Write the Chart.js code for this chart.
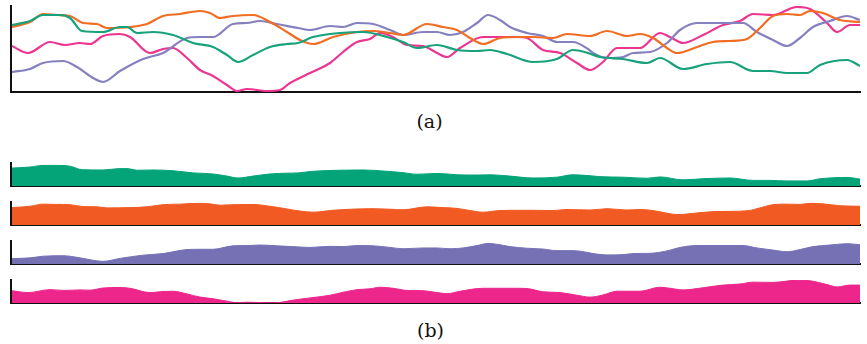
<!DOCTYPE html>
<html>
<head>
<meta charset="utf-8">
<script src="https://cdn.jsdelivr.net/npm/chart.js@4.4.1/dist/chart.umd.min.js"></script>
<style>
  body { margin: 0; background: #fff; }
  #wrap { position: relative; width: 867px; height: 344px; overflow: hidden; }
  canvas { position: absolute; left: 0; }
  .lbl { position: absolute; width: 867px; left: 0; text-align: center;
         font-family: "DejaVu Serif", serif; font-size: 19px; color: #111; }
</style>
</head>
<body>
<div id="wrap">
  <canvas id="top" width="867" height="100" style="top:0"></canvas>
  <div class="lbl" style="left:-4px; top:110px">(a)</div>
  <canvas id="s0" width="867" height="34" style="top:156px"></canvas>
  <canvas id="s1" width="867" height="34" style="top:195px"></canvas>
  <canvas id="s2" width="867" height="34" style="top:234px"></canvas>
  <canvas id="s3" width="867" height="34" style="top:273px"></canvas>
  <div class="lbl" style="left:-3px; top:319px">(b)</div>
</div>
<script>
// time (0..849) and value (0..86), one pair of arrays per series
const greenT = [1, 19, 32, 49, 59, 71, 92, 109, 116, 126, 142, 162, 182, 202, 216, 227, 242, 259, 276, 287,
  302, 329, 352, 376, 392, 406, 426, 446, 466, 479, 496, 522, 546, 562, 577,
  589, 612, 636, 649, 672, 696, 719, 742, 759, 776, 796, 809, 836, 849];
const greenV = [67, 71, 77, 77, 74, 61, 60, 65, 65, 59, 60, 57, 49, 45, 37, 30, 37, 45, 48, 49,
  55, 59, 60, 55, 50, 44, 47, 42, 41, 42, 38, 30, 33, 42, 39,
  35, 33, 29, 34, 23, 28, 30, 21, 21, 19, 19, 27, 32, 26];

const orangeT = [1, 19, 32, 46, 59, 72, 86, 96, 119, 136, 152, 169, 189, 199, 209, 222, 242, 259, 276, 289,
  302, 322, 346, 362, 379, 392, 416, 432, 446, 459, 472, 489, 509, 522, 542, 556,
  579, 596, 616, 629, 642, 656, 666, 686, 702, 719, 736, 749, 762, 776, 789, 799, 812, 829, 849];
const orangeV = [65, 70, 78, 77, 76, 69, 68, 64, 65, 68, 76, 78, 81, 79, 74, 76, 77, 70, 60, 52,
  48, 55, 60, 61, 59, 57, 68, 65, 62, 54, 48, 54, 55, 55, 54, 58,
  56, 61, 56, 58, 54, 44, 39, 45, 50, 51, 53, 64, 76, 78, 77, 81, 79, 72, 70];

const purpleT = [1, 19, 32, 52, 66, 82, 92, 109, 132, 152, 176, 189, 202, 222, 236, 249, 266, 287,
  299, 319, 332, 346, 362, 379, 392, 412, 426, 439, 452, 466, 477, 489, 499, 516, 532, 546, 562, 577,
  582, 596, 612, 622, 639, 656, 669, 686, 702, 719, 732, 746, 762, 776, 789, 802, 819, 836, 849];
const purpleV = [20, 23, 29, 31, 25, 14, 10, 21, 33, 39, 54, 55, 55, 68, 69, 71, 68, 64,
  62, 66, 65, 69, 68, 62, 57, 60, 60, 57, 60, 69, 77, 72, 65, 59, 56, 50, 50, 43,
  39, 34, 35, 39, 40, 49, 62, 69, 69, 69, 69, 60, 52, 46, 54, 65, 71, 76, 72];

const pinkT = [1, 17, 39, 54, 69, 79, 92, 109, 119, 139, 152, 162, 176, 189, 202, 216, 226, 236, 256, 269, 279,
  299, 319, 332, 346, 359, 369, 382, 396, 412, 426, 436, 449, 472, 506, 516, 532, 549, 566, 579,
  592, 606, 629, 649, 659, 672, 692, 712, 729, 742, 762, 786, 799, 816, 826, 839, 849];
const pinkV = [46, 39, 50, 47, 49, 48, 56, 58, 55, 39, 43, 44, 34, 22, 16, 7, 1, 3, 1, 2, 9,
  19, 29, 40, 50, 53, 59, 55, 47, 46, 39, 35, 44, 55, 55, 54, 42, 39, 29, 22,
  30, 44, 44, 59, 55, 49, 57, 67, 71, 78, 77, 85, 83, 69, 60, 67, 67];

const series = [
  { t: greenT, v: greenV, line: '#17a27b', fill: '#04a478' },
  { t: orangeT, v: orangeV, line: '#f26d22', fill: '#f15a22' },
  { t: purpleT, v: purpleV, line: '#8580c0', fill: '#7671b5' },
  { t: pinkT, v: pinkV, line: '#ec3590', fill: '#ec268b' },
];

function points(s) {
  return s.t.map((t, i) => ({ x: t, y: s.v[i] }));
}

function axes() {
  return {
    x: {
      type: 'linear', min: 0, max: 849,
      grid: { display: false },
      ticks: { display: false },
      border: { display: true, color: '#111', width: 2 },
      afterFit: s => { s.height = 0; }
    },
    y: {
      min: 0, max: 86,
      grid: { display: false },
      ticks: { display: false },
      border: { display: true, color: '#111', width: 2 },
      afterFit: s => { s.width = 0; }
    }
  };
}

function makeChart(id, datasets, padding) {
  new Chart(document.getElementById(id), {
    type: 'line',
    data: { datasets: datasets },
    options: {
      responsive: false,
      animation: false,
      layout: { padding: padding },
      plugins: { legend: { display: false }, tooltip: { enabled: false } },
      scales: axes()
    }
  });
}

// (a) all four series as lines
makeChart('top', series.map(s => ({
  data: points(s),
  borderColor: s.line,
  borderWidth: 2.2,
  pointRadius: 0,
  cubicInterpolationMode: 'monotone',
  fill: false
})), { left: 11, right: 7, top: 6, bottom: 8 });

// (b) one filled strip per series
series.forEach((s, i) => {
  makeChart('s' + i, [{
    data: points(s),
    borderColor: s.fill,
    borderWidth: 1,
    backgroundColor: s.fill,
    pointRadius: 0,
    cubicInterpolationMode: 'monotone',
    fill: 'origin'
  }], { left: 11, right: 7, top: 7, bottom: 4 });
});
</script>
</body>
</html>
